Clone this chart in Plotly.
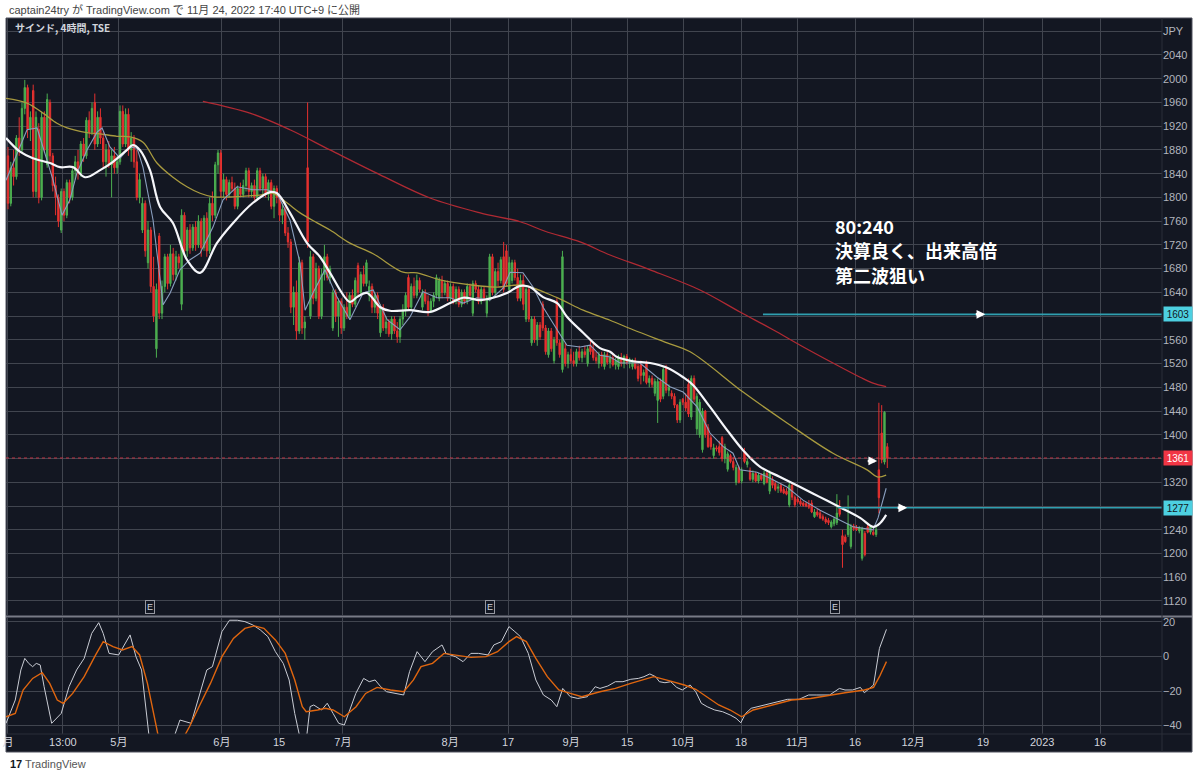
import plotly.graph_objects as go

# 4h candles (TSE), one entry per bar
opens = [
    1870, 1790, 1850, 1835, 1900, 1880, 1950, 1985, 1915, 1980,
    1810, 1915, 1800, 1935, 1855, 1960, 1870, 1820, 1800, 1745,
    1810, 1770, 1825, 1800, 1845, 1860, 1840, 1890, 1870, 1930,
    1910, 1960, 1890, 1935, 1900, 1860, 1880, 1855, 1870, 1850,
    1860, 1945, 1890, 1940, 1880, 1900, 1860, 1800, 1745, 1790,
    1690, 1745, 1650, 1545, 1735, 1605, 1650, 1700, 1655, 1705,
    1670, 1700, 1620, 1770, 1710, 1745, 1715, 1750, 1720, 1760,
    1715, 1765, 1710, 1790, 1770, 1855, 1875, 1810, 1830, 1805,
    1825, 1815, 1785, 1815, 1805, 1820, 1845, 1810, 1820, 1800,
    1845, 1815, 1835, 1805, 1825, 1785, 1815, 1800, 1770, 1780,
    1740, 1725, 1615, 1640, 1575, 1690, 1580, 1850, 1600, 1700,
    1630, 1680, 1600, 1670, 1700, 1665, 1580, 1640, 1600, 1625,
    1580, 1615, 1600, 1635, 1620, 1685, 1640, 1670, 1655, 1635,
    1650, 1615, 1635, 1572, 1615, 1580, 1590, 1570, 1595, 1575,
    1565, 1595, 1610, 1665, 1615, 1650, 1635, 1660, 1615, 1640,
    1625, 1610, 1625, 1635, 1630, 1660, 1640, 1655, 1630, 1650,
    1625, 1645, 1620, 1640, 1625, 1650, 1605, 1655, 1645, 1625,
    1645, 1605, 1630, 1700, 1640, 1675, 1660, 1700, 1710, 1645,
    1660, 1690, 1665, 1630, 1660, 1595, 1645, 1555, 1595, 1560,
    1585, 1620, 1580, 1535, 1575, 1525, 1625, 1555, 1510, 1545,
    1520, 1535, 1525, 1520, 1540, 1530, 1540, 1520, 1550, 1545,
    1530, 1520, 1535, 1515, 1535, 1522, 1530, 1518, 1515, 1530,
    1520, 1532, 1522, 1515, 1525, 1515, 1518, 1500, 1520, 1488,
    1495, 1470, 1458, 1490, 1465, 1512, 1475, 1470, 1465, 1450,
    1425, 1460, 1455, 1485, 1430, 1495, 1410, 1400, 1375, 1440,
    1412, 1395, 1365, 1378, 1380, 1395, 1360, 1342, 1365, 1355,
    1320, 1345, 1322, 1372, 1350, 1340, 1325, 1335, 1322, 1332,
    1318, 1335, 1305, 1325, 1318, 1310, 1315, 1308, 1305, 1282,
    1315, 1295, 1292, 1288, 1285, 1284, 1282, 1285, 1262, 1270,
    1268, 1262, 1258, 1256, 1245, 1250, 1252, 1278, 1230, 1228,
    1232, 1212, 1246, 1244, 1238, 1192, 1234, 1245, 1236, 1236,
    1232, 1341, 1403, 1354, 1380,
]
highs = [
    1885, 1860, 1880, 1905, 1935, 1960, 1998, 1990, 1945, 1990,
    1945, 1925, 1945, 1945, 1975, 1965, 1875, 1835, 1805, 1815,
    1815, 1830, 1830, 1850, 1870, 1880, 1895, 1900, 1935, 1945,
    1960, 1975, 1945, 1950, 1910, 1890, 1895, 1880, 1885, 1870,
    1955, 1955, 1950, 1950, 1910, 1905, 1880, 1840, 1800, 1795,
    1760, 1750, 1700, 1655, 1740, 1660, 1705, 1705, 1720, 1715,
    1710, 1705, 1780, 1775, 1750, 1755, 1755, 1760, 1770, 1765,
    1770, 1775, 1800, 1810, 1860, 1880, 1880, 1840, 1835, 1830,
    1835, 1825, 1820, 1825, 1830, 1850, 1850, 1825, 1830, 1850,
    1850, 1840, 1840, 1830, 1830, 1820, 1820, 1805, 1790, 1785,
    1750, 1730, 1650, 1660, 1700, 1695, 1600, 1960, 1710, 1705,
    1690, 1685, 1680, 1720, 1705, 1685, 1645, 1645, 1630, 1630,
    1620, 1640, 1640, 1645, 1665, 1690, 1675, 1685, 1695, 1660,
    1655, 1640, 1640, 1620, 1620, 1600, 1595, 1600, 1600, 1590,
    1600, 1620, 1640, 1670, 1655, 1665, 1670, 1665, 1645, 1645,
    1635, 1630, 1640, 1670, 1665, 1668, 1660, 1660, 1655, 1655,
    1650, 1650, 1645, 1645, 1655, 1655, 1660, 1660, 1652, 1650,
    1650, 1635, 1705, 1705, 1680, 1690, 1700, 1725, 1720, 1700,
    1695, 1695, 1680, 1670, 1670, 1650, 1650, 1600, 1600, 1590,
    1590, 1625, 1585, 1580, 1580, 1565, 1630, 1560, 1710, 1555,
    1540, 1545, 1540, 1545, 1550, 1545, 1550, 1550, 1560, 1555,
    1540, 1540, 1540, 1540, 1540, 1535, 1535, 1530, 1535, 1538,
    1535, 1536, 1530, 1528, 1530, 1520, 1525, 1510, 1525, 1500,
    1500, 1495, 1495, 1495, 1515, 1518, 1485, 1475, 1470, 1452,
    1460, 1462, 1470, 1495, 1500, 1500, 1470, 1460, 1445, 1442,
    1418, 1400, 1385, 1382, 1390, 1398, 1385, 1372, 1368, 1362,
    1350, 1348, 1345, 1378, 1360, 1345, 1340, 1338, 1336, 1335,
    1340, 1338, 1340, 1330, 1322, 1318, 1318, 1312, 1310, 1320,
    1318, 1298, 1296, 1292, 1288, 1287, 1290, 1290, 1275, 1275,
    1272, 1266, 1262, 1260, 1256, 1262, 1300, 1290, 1240, 1232,
    1298, 1250, 1250, 1248, 1246, 1245, 1238, 1250, 1248, 1242,
    1245, 1454, 1450, 1440, 1386,
]
lows = [
    1780, 1785, 1820, 1830, 1870, 1875, 1940, 1900, 1895, 1800,
    1800, 1790, 1795, 1875, 1850, 1860, 1810, 1770, 1750, 1740,
    1760, 1765, 1790, 1795, 1830, 1830, 1835, 1860, 1865, 1900,
    1905, 1880, 1885, 1890, 1850, 1835, 1850, 1800, 1840, 1840,
    1855, 1885, 1885, 1870, 1860, 1850, 1795, 1790, 1740, 1700,
    1680, 1640, 1590, 1530, 1595, 1595, 1640, 1645, 1650, 1660,
    1660, 1680, 1610, 1700, 1700, 1705, 1710, 1710, 1715, 1700,
    1710, 1700, 1705, 1760, 1765, 1840, 1800, 1800, 1795, 1800,
    1810, 1780, 1780, 1800, 1800, 1810, 1800, 1800, 1795, 1795,
    1810, 1805, 1800, 1795, 1780, 1765, 1790, 1760, 1755, 1735,
    1715, 1605, 1585, 1560, 1570, 1570, 1560, 1715, 1595, 1620,
    1625, 1595, 1595, 1660, 1660, 1655, 1575, 1590, 1565, 1570,
    1575, 1595, 1595, 1615, 1615, 1635, 1635, 1650, 1650, 1625,
    1605, 1605, 1595, 1565, 1575, 1570, 1565, 1560, 1570, 1555,
    1555, 1585, 1600, 1610, 1610, 1630, 1630, 1640, 1610, 1620,
    1600, 1605, 1615, 1630, 1625, 1630, 1635, 1625, 1625, 1620,
    1620, 1615, 1615, 1620, 1620, 1630, 1600, 1640, 1620, 1620,
    1625, 1598, 1625, 1635, 1635, 1650, 1655, 1640, 1650, 1640,
    1655, 1660, 1625, 1625, 1610, 1590, 1590, 1550, 1555, 1550,
    1560, 1575, 1535, 1530, 1540, 1520, 1550, 1530, 1505, 1515,
    1512, 1520, 1515, 1515, 1525, 1522, 1530, 1515, 1535, 1525,
    1520, 1512, 1515, 1510, 1518, 1512, 1515, 1510, 1510, 1515,
    1512, 1518, 1512, 1510, 1510, 1490, 1485, 1490, 1485, 1480,
    1480, 1465, 1420, 1455, 1460, 1470, 1465, 1460, 1445, 1420,
    1420, 1450, 1440, 1430, 1425, 1455, 1400, 1395, 1370, 1395,
    1378, 1375, 1360, 1372, 1365, 1355, 1352, 1338, 1352, 1340,
    1315, 1318, 1318, 1352, 1345, 1322, 1320, 1320, 1318, 1322,
    1315, 1318, 1300, 1310, 1305, 1302, 1302, 1300, 1298, 1278,
    1290, 1278, 1284, 1280, 1279, 1278, 1275, 1268, 1260, 1262,
    1258, 1255, 1250, 1248, 1242, 1246, 1248, 1262, 1176, 1218,
    1228, 1208, 1238, 1238, 1234, 1188, 1195, 1234, 1232, 1230,
    1228, 1268, 1352, 1350, 1344,
]
closes = [
    1790, 1850, 1835, 1900, 1880, 1950, 1985, 1915, 1935, 1810,
    1935, 1800, 1935, 1880, 1965, 1870, 1820, 1800, 1760, 1810,
    1770, 1825, 1800, 1845, 1860, 1840, 1890, 1870, 1930, 1910,
    1950, 1890, 1935, 1900, 1860, 1880, 1855, 1870, 1850, 1860,
    1945, 1890, 1940, 1880, 1900, 1860, 1800, 1830, 1790, 1710,
    1745, 1650, 1600, 1645, 1605, 1650, 1700, 1655, 1705, 1670,
    1700, 1690, 1770, 1710, 1745, 1715, 1750, 1720, 1760, 1715,
    1765, 1710, 1790, 1770, 1855, 1875, 1810, 1830, 1805, 1825,
    1815, 1785, 1815, 1805, 1820, 1845, 1810, 1820, 1800, 1845,
    1815, 1835, 1805, 1825, 1785, 1815, 1800, 1770, 1780, 1740,
    1725, 1615, 1640, 1575, 1690, 1580, 1590, 1725, 1700, 1630,
    1680, 1600, 1670, 1700, 1665, 1680, 1640, 1600, 1625, 1580,
    1615, 1600, 1635, 1620, 1660, 1640, 1670, 1655, 1690, 1650,
    1615, 1635, 1605, 1615, 1580, 1590, 1570, 1595, 1575, 1565,
    1595, 1610, 1635, 1615, 1650, 1635, 1660, 1645, 1640, 1625,
    1610, 1625, 1635, 1665, 1660, 1640, 1655, 1630, 1650, 1625,
    1645, 1620, 1640, 1625, 1650, 1635, 1655, 1645, 1625, 1645,
    1630, 1630, 1700, 1640, 1675, 1660, 1695, 1645, 1655, 1690,
    1690, 1665, 1630, 1660, 1620, 1645, 1595, 1595, 1560, 1585,
    1565, 1580, 1540, 1575, 1545, 1560, 1555, 1535, 1700, 1520,
    1535, 1525, 1520, 1540, 1530, 1540, 1535, 1545, 1540, 1530,
    1525, 1535, 1520, 1535, 1522, 1530, 1518, 1525, 1530, 1520,
    1532, 1522, 1525, 1525, 1512, 1495, 1500, 1505, 1488, 1495,
    1485, 1490, 1490, 1460, 1510, 1475, 1480, 1465, 1450, 1425,
    1455, 1455, 1445, 1435, 1495, 1460, 1465, 1455, 1440, 1400,
    1380, 1380, 1378, 1376, 1370, 1360, 1380, 1368, 1355, 1345,
    1345, 1320, 1340, 1355, 1355, 1325, 1335, 1322, 1332, 1325,
    1335, 1320, 1335, 1315, 1308, 1312, 1305, 1302, 1300, 1315,
    1295, 1282, 1287, 1283, 1281, 1280, 1278, 1270, 1270, 1265,
    1260, 1258, 1253, 1252, 1253, 1258, 1268, 1266, 1215, 1220,
    1250, 1245, 1242, 1240, 1244, 1242, 1198, 1236, 1245, 1232,
    1240, 1294, 1358, 1438, 1361,
]
bars = list(range(len(closes)))

# moving averages, (bar position, price) points
ma240_x = [69.6, 86.4, 100.7, 115, 132.9, 150.7, 168.6, 182.9, 191.8, 204.3,
           215, 229.3, 247.1, 261.4, 273.2, 282.9, 294.6, 304.3, 308.9, 313.6]
ma240_y = [1962, 1942, 1914, 1880, 1838, 1799, 1774, 1759, 1743, 1725,
           1703, 1678, 1644, 1607, 1577, 1551, 1521, 1497, 1487, 1481]

ma80_x = [-0.7, 6.8, 12.5, 17.5, 21.1, 28.2, 32.9, 38.9, 43.6, 48.2, 53.2, 58.9,
          63.9, 68.6, 73.2, 80.4, 90, 94.6, 99.6, 104.3, 110.4, 115, 122.1, 130.4,
          141.1, 146.1, 154.3, 166.1, 174.6, 183.9, 196.1, 205.4, 215, 223.2,
          235.4, 243.6, 262.5, 278.2, 294.6, 306.8, 310.4, 313.6]
ma80_y = [1967, 1959, 1942, 1925, 1917, 1909, 1907, 1903, 1902, 1893, 1858, 1834,
          1818, 1807, 1801, 1801, 1804, 1807, 1791, 1774, 1757, 1745, 1723, 1705,
          1674, 1673, 1661, 1652, 1649, 1652, 1631, 1610, 1593, 1577,
          1555, 1540, 1472, 1420, 1369, 1341, 1329, 1332]

ma20_x = [-0.7, 4.3, 8.9, 15, 18.6, 23.2, 27.5, 32.9, 37.5, 42.5, 44.6, 47.1,
          50.7, 54.3, 58.9, 63.9, 68.6, 74.6, 80.4, 87.5, 93.6, 96.1, 100.7,
          106.8, 111.4, 115, 122.1, 124.6, 128.2, 132.9, 136.4, 143.6, 150.7,
          157.9, 162.5, 168.6, 173.2, 178.2, 182.9, 186.4, 191.1, 196.1, 199.6,
          205.4, 211.4, 215, 217.5, 223.2, 229.3, 235.4, 241.1, 244.6, 250.7,
          256.8, 262.5, 268.6, 275.7, 282.9, 290, 297.1, 304.3, 308.9, 311.4, 313.6]
ma20_y = [1900, 1877, 1866, 1858, 1851, 1851, 1834, 1846, 1860, 1880, 1888, 1880,
          1846, 1784, 1757, 1695, 1673, 1723, 1757, 1791, 1809, 1807, 1774,
          1723, 1700, 1673, 1624, 1632, 1639, 1615, 1609, 1610, 1607,
          1622, 1631, 1627, 1631, 1639, 1651, 1649, 1632, 1622, 1599,
          1572, 1546, 1540, 1531, 1524, 1521, 1513, 1497, 1484, 1447,
          1408, 1374, 1346, 1329, 1312, 1295, 1278, 1260, 1245, 1251, 1265]

ma5_x = [-0.7, 1.8, 4.3, 6.8, 10.4, 12.5, 16.1, 19.3, 22.1, 24.6, 28.2, 31.8,
         33.6, 36.4, 40, 43.6, 46.1, 48.2, 51.8, 55.4, 57.9, 61.4, 65, 68.6,
         73.2, 76.8, 81.8, 87.5, 92.5, 96.1, 100.7, 104.3, 106.1, 108.9, 113.2,
         117.5, 122.1, 126.8, 130.4, 135.4, 140, 143.6, 148.2, 153.2, 157.9,
         162.5, 167.5, 172.1, 176.8, 179.3, 183.9, 187.5, 191.1, 196.1, 199.6,
         204.3, 207.9, 211.4, 215, 218.6, 225.7, 231.8, 236.4, 241.1, 246.1,
         250.7, 255.4, 258.9, 261.4, 267.5, 272.1, 278.2, 283.9, 290, 297.1,
         301.8, 308.9, 310.7, 313.6]
ma5_y = [1829, 1858, 1885, 1914, 1917, 1885, 1829, 1770, 1796, 1841, 1880, 1910,
         1917, 1885, 1866, 1885, 1883, 1851, 1762, 1619, 1639, 1678, 1695, 1706,
         1750, 1796, 1818, 1813, 1813, 1807, 1762, 1689, 1610, 1639, 1678,
         1632, 1594, 1639, 1644, 1594, 1577, 1599, 1641, 1631, 1631,
         1622, 1631, 1627, 1647, 1674, 1673, 1649, 1615, 1577, 1551,
         1548, 1551, 1534, 1531, 1521, 1521, 1497, 1481, 1472, 1447,
         1403, 1380, 1369, 1341, 1337, 1327, 1312, 1290, 1273, 1256,
         1245, 1240, 1260, 1310]

# lower pane oscillator (white) and its signal line (orange)
osc_x = [-0.7, 2.6, 4.6, 6.0, 7.4, 8.8, 10.1, 11.5, 12.9, 15.6, 19.0, 21.8, 24.5,
         27.2, 29.9, 32.4, 34.0, 36.1, 39.5, 40.9, 43.6, 45.7, 47.7, 50.5, 56,
         61.4, 64.1, 65.4, 66.8, 68.2, 71.0, 73.0, 75.0, 76.4, 79.1, 81.9, 84.6,
         87.4, 90.1, 92.8, 95.5, 98.3, 100.4, 102.4, 104.4, 106.4, 107.9, 109.2,
         112.0, 114.0, 116.1, 118.1, 120.1, 121.5, 124.2, 127.0, 129.0, 131.1,
         133.1, 135.2, 139.3, 141.3, 143.4, 146.1, 148.9, 151.6, 155.0, 156.4,
         159.8, 162.5, 165.3, 168.0, 171.4, 173.5, 176.2, 178.9, 181.0, 183.0,
         185.8, 188.5, 191.2, 194.0, 196.0, 198.1, 200.8, 203.5, 206.9, 209.7,
         211.4, 214.2, 216.9, 219.6, 222.4, 225.1, 227.1, 229.2, 231.3, 232.6,
         234.6, 236.7, 238.8, 240.8, 243.6, 245.6, 247.6, 249.7, 252.4, 255.2,
         257.9, 260.0, 261.7, 263.4, 265.4, 268.8, 272.3, 274.3, 278.4, 282.5,
         285.9, 288.6, 293.4, 296.9, 298.9, 301.6, 304.4, 305.8, 307.1, 309.1,
         311.2, 313.7]
osc_y = [-38.7, -25.2, -7.8, -1.1, -4, -5.9, -4, -4.9, -17.5, -38.7, -33, -17.5, -7.8,
         -1.1, 13.4, 19.6, 13.4, 1.8, 0.9, 4.7, 12.5, -0.1, -7.8, -48, -62,
         -36.8, -37.8, -38.7, -31, -23.3, -7.8, -5.9, 5.7, 14.4, 21, 21, 20.2,
         18.3, 15.4, 11.5, 2.8, -4, -13.6, -33, -48, -50, -29, -28.1,
         -31, -27.1, -33, -38.7, -39.7, -33, -21.4, -12.7, -14.6, -13.6,
         -17.5, -20.4, -21.4, -22.3, -8.8, 2.8, -3, 2.8, 6.7, 1.8,
         -0.1, -3, 1.8, 1.8, 0.9, 6.7, 8.6, 17.3, 14.4, 11.5,
         1.8, -13.6, -22.3, -25.2, -29.1, -18.5, -23.3, -24.3, -23.3, -17.5,
         -18.5, -17.1, -14.6, -14.6, -13.2, -12.7, -11.7, -10.1, -11.7, -14.6,
         -15.2, -14.6, -17.9, -19.4, -16.5, -20.4, -27.1, -29.1, -31, -32,
         -33.9, -35.8, -38.4, -33, -30, -28.7, -27.2, -26.2, -24.8, -24.8,
         -22.3, -22.3, -22.3, -18.5, -19.4, -19.4, -17.9, -21, -19.4, -16.5,
         4.7, 15.7]

sig_x = [-0.7, 2.6, 5.4, 8.8, 12.2, 14.9, 17.6, 19.7, 23.1, 27.2, 31.3, 34.0,
         37.5, 40.9, 44.3, 47.0, 49.8, 52.5, 53.9, 59, 64.8, 68.2, 72.3, 76.4,
         80.5, 84.6, 88.0, 91.4, 95.5, 99.0, 102.4, 105.1, 106.5, 110.6, 113.3,
         116.1, 120.1, 124.3, 127.7, 131.8, 136.6, 141.3, 144.8, 147.5, 151.6,
         155.7, 161.1, 165.3, 170.7, 174.8, 178.9, 181.6, 185.1, 188.5, 192.6,
         196.7, 200.8, 204.9, 211.4, 216.9, 222.4, 230.6, 236.0, 241.5, 245.6,
         249.7, 253.8, 257.9, 262.0, 266.1, 272.9, 279.8, 286.6, 293.4, 298.9,
         305.8, 309.1, 311.2, 313.7]
sig_y = [-34.9, -33, -19.4, -12.7, -9.4, -15.6, -25.2, -27.1, -21.4, -11.7, 0.9, 8.6,
         5.7, 3.8, 5.7, 0.9, -15.6, -38.7, -48, -58, -40.7, -29.1, -15.6, -0.1,
         10.5, 16.3, 17.7, 16.3, 9.6, 1.8, -13.6, -29.1, -32, -31, -30,
         -31, -34.9, -29.1, -21.4, -17.9, -19.4, -20.4, -13.6, -5.9, -4,
         1.8, 0.3, -0.5, -0.1, 2.8, 8.6, 11.5, 8.6, -1.1, -11.7,
         -19.4, -21.4, -23.3, -20.4, -18.5, -15.6, -11.7, -14, -16.5, -19,
         -23.3, -28.1, -31, -34.9, -31, -28.1, -25.2, -24.3, -22.3, -21,
         -19.4, -17.9, -11.7, -3]

# time axis labels (bar positions)
xtick_pos = [0, 19.6, 39.6, 76.4, 96.8, 119.6, 157.9, 178.6, 201.1, 221.1,
             241.1, 261.8, 281.8, 302.5, 323.2, 348.2, 369.3, 390]
xtick_text = ["月", "13:00", "5月", "6月", "15", "7月", "8月", "17", "9月", "15",
              "10月", "18", "11月", "16", "12月", "19", "2023", "16"]

price_ticks = list(range(1120, 2081, 40))
hidden_ticks = {1600: "", 1360: "", 1280: "", 2080: "JPY"}
price_text = [hidden_ticks.get(v, str(v)) for v in price_ticks]

# drawn levels
level_hi, level_hi_start = 1603, 269.6
level_lo, level_lo_start = 1277, 296.4
last_close = 1361
arrow_pts = [(349.0, 1603), (321.1, 1277), (310.4, 1356)]
earn_bars = [50.7, 172.1, 295.4]

note_lines = ["80:240", "決算良く、出来高倍", "第二波狙い"]
note_y = [1752, 1711, 1670]

# ---------------------------------------------------------------------
W, H = 1200, 776
BG = "#131722"
GRID = "#41454f"
GREEN = "#4caf50"
RED = "#e5312f"
TXT = "#b2b5be"
CJK = "Liberation Sans, Noto Sans CJK JP"
X_RANGE = [-0.71, 412.1]


def px(x):
    return x / W


def py(y):
    return 1 - y / H


fig = go.Figure()

fig.add_trace(go.Candlestick(
    x=bars, open=opens, high=highs, low=lows, close=closes,
    increasing=dict(line=dict(color=GREEN, width=1), fillcolor=GREEN),
    decreasing=dict(line=dict(color=RED, width=1), fillcolor=RED),
    whiskerwidth=0, hoverinfo="skip", xaxis="x", yaxis="y",
))

for xs, ys, color, width, shape in [
    (ma240_x, ma240_y, "#b02a33", 1.3, "spline"),
    (ma80_x, ma80_y, "#a99b3f", 1.3, "spline"),
    (ma5_x, ma5_y, "#8a9fbf", 1.1, "linear"),
    (ma20_x, ma20_y, "#f5f6fa", 2.2, "spline"),
]:
    fig.add_trace(go.Scatter(x=xs, y=ys, mode="lines", hoverinfo="skip",
                             line=dict(color=color, width=width, shape=shape),
                             xaxis="x", yaxis="y"))

# price levels
fig.add_trace(go.Scatter(x=[X_RANGE[0], X_RANGE[1]], y=[last_close, last_close], mode="lines",
                         line=dict(color="rgba(242,54,69,0.75)", width=1, dash="dot"),
                         hoverinfo="skip", xaxis="x", yaxis="y"))
for start, lvl in [(level_hi_start, level_hi), (level_lo_start, level_lo)]:
    fig.add_trace(go.Scatter(x=[start, X_RANGE[1]], y=[lvl, lvl], mode="lines",
                             line=dict(color="#2f9fb0", width=1.6),
                             hoverinfo="skip", xaxis="x", yaxis="y"))

# oscillator
fig.add_trace(go.Scatter(x=osc_x, y=osc_y, mode="lines", hoverinfo="skip",
                         line=dict(color="#c9ccd4", width=1), xaxis="x2", yaxis="y2"))
fig.add_trace(go.Scatter(x=sig_x, y=sig_y, mode="lines", hoverinfo="skip",
                         line=dict(color="#e0660f", width=1.4), xaxis="x2", yaxis="y2"))

tickfont = dict(family=CJK, size=11, color=TXT)
fig.update_layout(
    width=W, height=H, margin=dict(l=0, r=0, t=0, b=0, autoexpand=False),
    paper_bgcolor="white", plot_bgcolor=BG, showlegend=False,
    xaxis=dict(domain=[px(6), px(1162)], range=X_RANGE, anchor="y", automargin=False,
               tickvals=xtick_pos, showticklabels=False, ticks="",
               gridcolor=GRID, zeroline=False, showline=False,
               rangeslider=dict(visible=False)),
    yaxis=dict(domain=[py(615), py(18)], range=[1096.4, 2102.3], anchor="x", automargin=False,
               side="right", tickvals=price_ticks, ticktext=price_text,
               gridcolor=GRID, zeroline=False, showline=False, ticks="",
               tickfont=tickfont),
    xaxis2=dict(domain=[px(6), px(1162)], range=X_RANGE, anchor="y2", automargin=False,
                tickvals=xtick_pos, ticktext=xtick_text, ticks="",
                gridcolor=GRID, zeroline=False, showline=False,
                tickfont=dict(family=CJK, size=11, color="#d1d4dc")),
    yaxis2=dict(domain=[py(734), py(618)], range=[-44.9, 22.3], anchor="x2", automargin=False,
                side="right", tickvals=[20, 0, -20, -40],
                gridcolor=GRID, zeroline=False, showline=False, ticks="",
                tickfont=tickfont),
)

shapes = [
    dict(type="rect", xref="paper", yref="paper", x0=px(6), x1=px(1192), y0=py(752), y1=py(18),
         fillcolor=BG, line=dict(color="#50535e", width=1), layer="below"),
    dict(type="line", xref="paper", yref="paper", x0=px(6), x1=px(1192), y0=py(616.5), y1=py(616.5),
         line=dict(color="#787b86", width=2)),
    dict(type="line", xref="paper", yref="paper", x0=px(1162), x1=px(1162), y0=py(752), y1=py(18),
         line=dict(color="#2a2e39", width=1)),
    dict(type="line", xref="paper", yref="paper", x0=px(6), x1=px(1192), y0=py(734), y1=py(734),
         line=dict(color="#2a2e39", width=1)),
]
fig.update_layout(shapes=shapes)

ann = []
# header / footer
ann.append(dict(xref="paper", yref="paper", x=px(7), y=py(10), xanchor="left", yanchor="middle",
                text="captain24try が TradingView.com で 11月 24, 2022 17:40 UTC+9 に公開",
                showarrow=False, font=dict(family=CJK, size=11, color="#444444")))
ann.append(dict(xref="paper", yref="paper", x=px(8), y=py(764), xanchor="left", yanchor="middle",
                text="<b>17</b> <span style='color:#555555'>TradingView</span>",
                showarrow=False, font=dict(family=CJK, size=11, color="#131722")))
ann.append(dict(xref="paper", yref="paper", x=px(13), y=py(28), xanchor="left", yanchor="middle",
                text="<b>サインド, 4時間, TSE</b>", showarrow=False,
                font=dict(family="Noto Sans CJK JP", size=10, color="#d1d4dc")))

# note text, one annotation per line
for line, yv in zip(note_lines, note_y):
    ann.append(dict(xref="x", yref="y", x=294.6, y=yv, xanchor="left", yanchor="middle",
                    text=line, showarrow=False,
                    font=dict(family="Noto Sans CJK JP", size=18, color="white", weight=600)))

# price tags on the axis
for val, bg, fg in [(level_hi, "#4dd0e1", BG), (last_close, "#f23645", "white"), (level_lo, "#4dd0e1", BG)]:
    ann.append(dict(xref="paper", yref="y", x=px(1163), y=val, xanchor="left", yanchor="middle",
                    text=str(val), showarrow=False, bgcolor=bg, borderpad=1.5, width=25,
                    font=dict(family="Liberation Sans", size=10, color=fg)))

# arrows
for xa, ya in arrow_pts:
    ann.append(dict(xref="x", yref="y", x=xa, y=ya, text="", showarrow=True,
                    ax=-11, ay=0, arrowhead=2, arrowsize=0.7, arrowwidth=2.5,
                    arrowcolor="white"))

# earnings markers
for xb in earn_bars:
    ann.append(dict(xref="x", yref="y", x=xb, y=1110, text="E", showarrow=False,
                    bordercolor="#9598a1", borderwidth=1, borderpad=1, bgcolor=BG,
                    font=dict(family="Liberation Sans", size=9, color="#d1d4dc")))

fig.update_layout(annotations=ann)

# page body has a default margin; drop it so the figure sits at the window origin
fig.write_html("out.html", config={"displayModeBar": False},
               post_script="document.body.style.margin='0';")
